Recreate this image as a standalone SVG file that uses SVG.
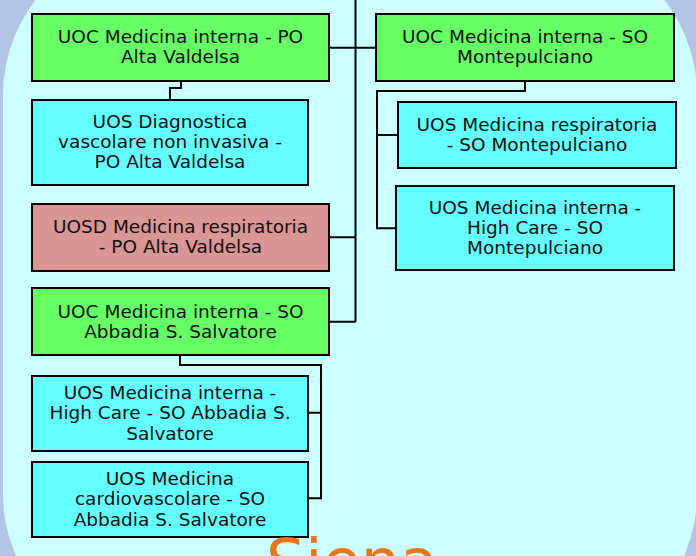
<svg xmlns="http://www.w3.org/2000/svg" width="696" height="556" viewBox="0 0 696 556">
<style>
.box{stroke:#000;stroke-width:2}
.uoc{fill:#66FF66}
.uos{fill:#66FFFF}
.uosd{fill:#D99694}
.t{font-family:"DejaVu Sans",Verdana,sans-serif;font-size:18.5px;fill:#111;text-anchor:middle}
.c{fill:none;stroke:#000;stroke-width:2}
</style>
<rect x="0" y="0" width="696" height="556" fill="#B4C4E6"/>
<rect x="3" y="-60" width="694" height="709" rx="155" ry="155" fill="#CCFFFF"/>
<g id="connectors">
<path class="c" d="M355.5,0 V321.7 M329,47.7 H376 M329,237.3 H355.5 M329,321.7 H355.5"/>
<path class="c" d="M181,81 V88 H170 V100"/>
<path class="c" d="M525,81 V91 H377 V228.3 H396 M377,135 H398"/>
<path class="c" d="M180,355 V365 H321 V498.3 H308 M308,412.7 H321"/>
</g>
<g id="uoc-po-alta-valdelsa">
<rect class="box uoc" x="32" y="14" width="297" height="67"/>
<text class="t" x="180.5" y="43.3">UOC Medicina interna - PO</text>
<text class="t" x="180.5" y="63.3">Alta Valdelsa</text>
</g>
<g id="uos-diagnostica">
<rect class="box uos" x="32" y="100" width="276" height="85"/>
<text class="t" x="170" y="128.3">UOS Diagnostica</text>
<text class="t" x="170" y="148.3">vascolare non invasiva -</text>
<text class="t" x="170" y="168.3">PO Alta Valdelsa</text>
</g>
<g id="uoc-so-montepulciano">
<rect class="box uoc" x="376" y="14" width="298" height="67"/>
<text class="t" x="525" y="43.3">UOC Medicina interna - SO</text>
<text class="t" x="525" y="63.3">Montepulciano</text>
</g>
<g id="uos-resp-montepulciano">
<rect class="box uos" x="398" y="102" width="278" height="66"/>
<text class="t" x="537" y="130.5">UOS Medicina respiratoria</text>
<text class="t" x="537" y="150.5">- SO Montepulciano</text>
</g>
<g id="uos-highcare-montepulciano">
<rect class="box uos" x="396" y="186" width="278" height="84"/>
<text class="t" x="535" y="213.5">UOS Medicina interna -</text>
<text class="t" x="535" y="233.5">High Care - SO</text>
<text class="t" x="535" y="253.5">Montepulciano</text>
</g>
<g id="uosd-resp-alta-valdelsa">
<rect class="box uosd" x="32" y="204" width="297" height="67"/>
<text class="t" x="180.5" y="232.7">UOSD Medicina respiratoria</text>
<text class="t" x="180.5" y="252.7">- PO Alta Valdelsa</text>
</g>
<g id="uoc-so-abbadia">
<rect class="box uoc" x="32" y="288" width="297" height="67"/>
<text class="t" x="180.5" y="317.7">UOC Medicina interna - SO</text>
<text class="t" x="180.5" y="337.7">Abbadia S. Salvatore</text>
</g>
<g id="uos-highcare-abbadia">
<rect class="box uos" x="32" y="376" width="276" height="75"/>
<text class="t" x="170" y="398.5">UOS Medicina interna -</text>
<text class="t" x="170" y="419">High Care - SO Abbadia S.</text>
<text class="t" x="170" y="439.5">Salvatore</text>
</g>
<g id="uos-cardio-abbadia">
<rect class="box uos" x="32" y="462" width="276" height="75"/>
<text class="t" x="170" y="484.5">UOS Medicina</text>
<text class="t" x="170" y="505">cardiovascolare - SO</text>
<text class="t" x="170" y="525.5">Abbadia S. Salvatore</text>
</g>
<text x="266" y="583" font-family="'DejaVu Sans',Verdana,sans-serif" font-size="62" fill="#E8761A">Siena</text>
</svg>
